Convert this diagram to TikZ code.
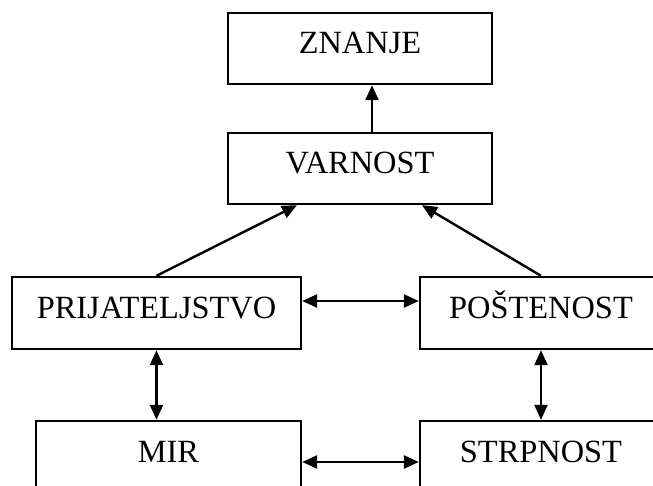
\documentclass[tikz,border=0pt]{standalone}
\usepackage{fontspec}
\setmainfont{Liberation Serif}
\usetikzlibrary{arrows.meta}

\begin{document}
\begin{tikzpicture}[x=0.5pt,y=-0.5pt, line width=1.2pt,
  every node/.style={font=\fontsize{16.2}{19}\selectfont},
  box/.style={draw,inner sep=0pt,minimum height=36pt,text height=8pt,text
  depth=3pt}, edge/.style={-{Triangle[length=7.5pt,width=6.5pt]}},
  both/.style={{Triangle[length=7.5pt,width=6.5pt]}-{Triangle[length=7.5pt,width=6.5pt]}}]
  \clip (0,0) rectangle (653,486);
  \node[box,minimum width=132pt,minimum height=35.5pt] (zn) at (360,48.5) {ZNANJE};
  \node[box,minimum width=132pt,minimum height=35.5pt] (varn) at (360,168.5) {VARNOST};
  \node[box,minimum width=144.5pt] (prij) at (156.5,313) {PRIJATELJSTVO};
  \node[box,minimum width=121pt] (post) at (541,313) {POŠTENOST};
  \node[box,minimum width=132.5pt] (mir) at (168.5,457) {MIR};
  \node[box,minimum width=121pt] (strp) at (541,457) {STRPNOST};
  \draw[edge] ([xshift=6pt]varn.north) -- ([xshift=6pt]zn.south);
  \draw[edge] (prij.north) -- ([xshift=-31.5pt]varn.south);
  \draw[edge] (post.north) -- ([xshift=31pt]varn.south);
  \draw[both] ([yshift=6pt]prij.east) -- ([yshift=6pt]prij.east -| post.west);
  \draw[both] (prij.south) -- (prij.south |- mir.north);
  \draw[both] (post.south) -- (strp.north);
  \draw[both] ([yshift=-2.5pt]mir.east) -- ([yshift=-2.5pt]mir.east -| strp.west);
\end{tikzpicture}
\end{document}
